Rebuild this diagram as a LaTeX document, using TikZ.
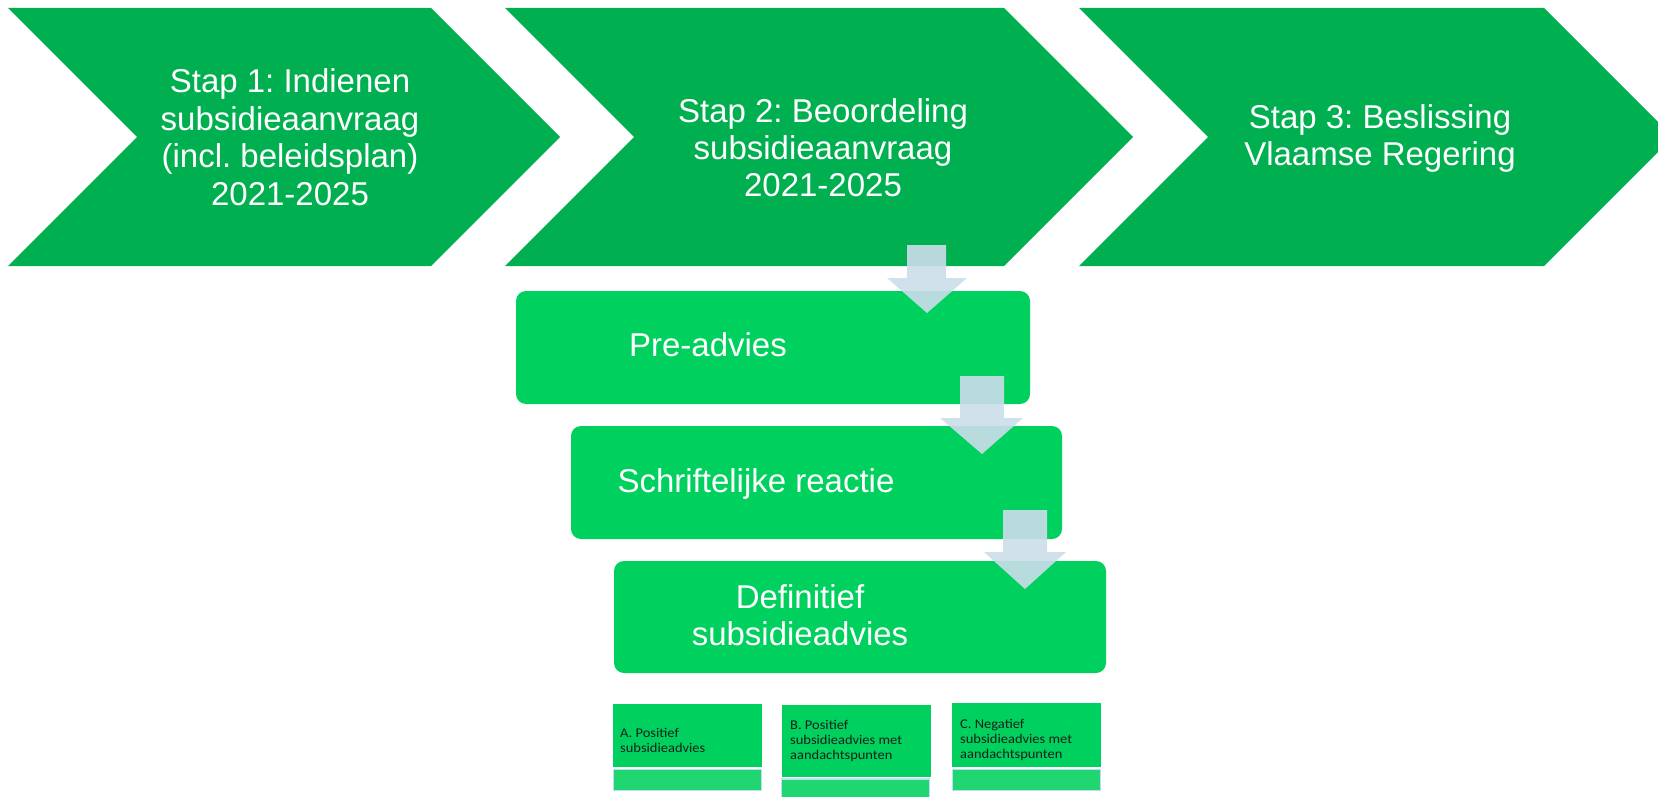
\documentclass[tikz,border=0pt]{standalone}
\usepackage{fontspec}
\setmainfont{Liberation Sans}
\newfontfamily\smallfont[FakeStretch=1.08]{Carlito}
\definecolor{chevgreen}{RGB}{0,176,80}
\definecolor{boxgreen}{RGB}{0,208,94}
\definecolor{arrowblue}{RGB}{204,222,235}
\definecolor{stripgreen}{RGB}{32,214,112}
\definecolor{stripborder}{RGB}{190,222,242}
\definecolor{smallink}{RGB}{22,32,26}
\tikzset{
  chevfill/.style={fill=chevgreen},
  steptext/.style={text=white, align=center, inner sep=0pt, font=\fontsize{33}{37}\selectfont},
  flowbox/.style={fill=boxgreen, rounded corners=10pt, inner sep=0pt},
  boxtext/.style={text=white, align=center, inner sep=0pt, font=\fontsize{33}{37.5}\selectfont},
  smallbox/.style={fill=boxgreen, inner sep=0pt},
  stripbox/.style={fill=stripgreen, draw=stripborder, line width=1.5pt, inner sep=0pt},
  smalltext/.style={text=smallink, align=left, inner sep=0pt, anchor=north west, font=\smallfont\fontsize{13.4}{15}\selectfont},
  flowarrow/.style={fill=arrowblue, fill opacity=0.9}
}
\begin{document}
\frenchspacing
\begin{tikzpicture}[x=1pt,y=-1pt]
\useasboundingbox (0,0) rectangle (1658,797);
\clip (0,0) rectangle (1658,797);
\fill[white] (0,0) rectangle (1658,797);

% chevrons
\fill[chevfill] (8,8) -- (431,8) -- (560,137) -- (431,266) -- (8,266) -- (137,137) -- cycle;
\fill[chevfill] (505,8) -- (1004,8) -- (1133,137) -- (1004,266) -- (505,266) -- (634,137) -- cycle;
\fill[chevfill] (1079,8) -- (1544,8) -- (1673,137) -- (1544,266) -- (1079,266) -- (1208,137) -- cycle;
\node[steptext, font=\fontsize{33}{37.5}\selectfont] (s1) at (290,137) {Stap 1: Indienen\\subsidieaanvraag\\(incl. beleidsplan)\\2021-2025};
\node[steptext] (s2) at (823,148) {Stap 2: Beoordeling\\subsidieaanvraag\\2021-2025};
\node[steptext] (s3) at (1380,138) {Stap 3: Beslissing\\Vlaamse Regering};

% process boxes
\node[flowbox, minimum width=514pt, minimum height=113pt] (pre) at (773,347.5) {};
\node[flowbox, minimum width=491pt, minimum height=113pt] (reactie) at (816.5,482.5) {};
\node[flowbox, minimum width=492pt, minimum height=112pt] (def) at (860,617) {};
\node[boxtext] (pretext) at (708,345) {Pre-advies};
\node[boxtext] (reactietext) at (756,484) {Schriftelijke reactie};
\node[boxtext] (deftext) at (800,615) {Definitief\\subsidieadvies};

% arrows
\fill[flowarrow] (907,245) -- (946,245) -- (946,278) -- (967,278) -- (927,313) -- (887,278) -- (907,278) -- cycle;
\fill[flowarrow] (960,376) -- (1004,376) -- (1004,418) -- (1023,418) -- (982,454) -- (940,418) -- (960,418) -- cycle;
\fill[flowarrow] (1003,510) -- (1047,510) -- (1047,552) -- (1066,552) -- (1025,589) -- (984,552) -- (1003,552) -- cycle;

% outcome boxes
\node[smallbox, minimum width=149pt, minimum height=63pt] (a) at (687.5,735.5) {};
\node[smallbox, minimum width=149pt, minimum height=72pt] (b) at (856.5,741) {};
\node[smallbox, minimum width=149pt, minimum height=64pt] (c) at (1026.5,735) {};
\node[stripbox, minimum width=148pt, minimum height=21pt] (astrip) at (687.5,780) {};
\node[stripbox, minimum width=148pt, minimum height=24pt] (bstrip) at (855.5,791) {};
\node[stripbox, minimum width=148pt, minimum height=21pt] (cstrip) at (1026.5,780) {};
\node[smalltext] (atext) at (620,728) {A. Positief\\subsidieadvies};
\node[smalltext] (btext) at (790,720) {B. Positief\\subsidieadvies met\\aandachtspunten};
\node[smalltext] (ctext) at (960,719) {C. Negatief\\subsidieadvies met\\aandachtspunten};
\end{tikzpicture}
\end{document}
